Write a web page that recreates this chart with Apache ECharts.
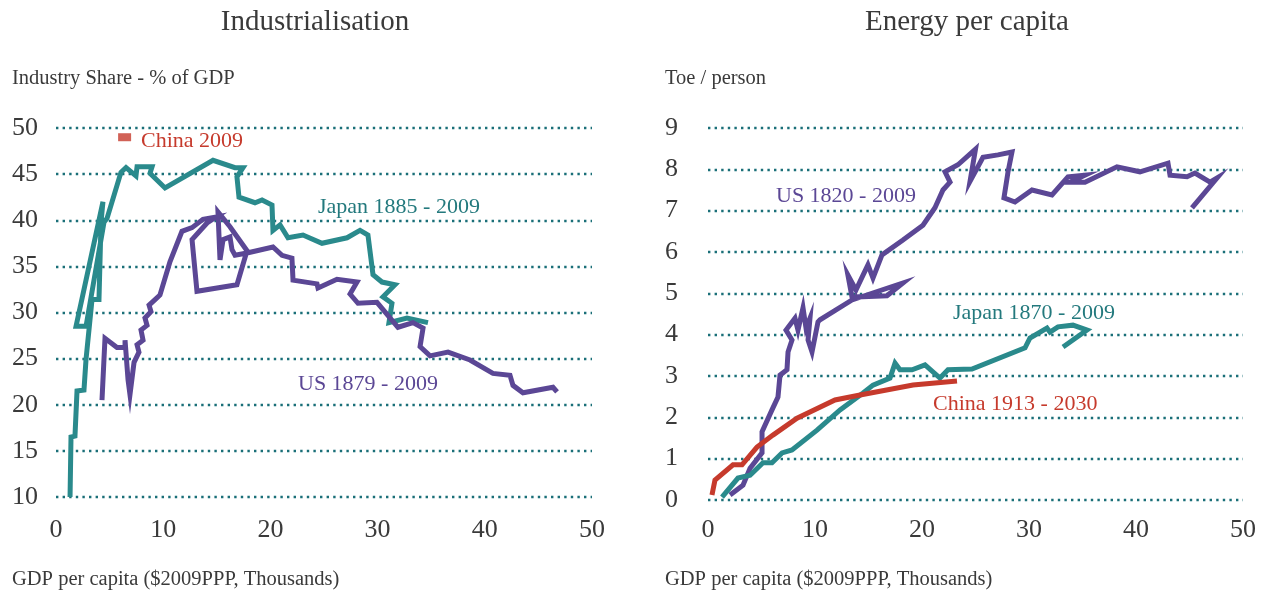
<!DOCTYPE html>
<html><head><meta charset="utf-8">
<script src="https://cdn.jsdelivr.net/npm/echarts@6/dist/echarts.min.js"></script>
<style>html,body{margin:0;padding:0;background:#fff}#c{width:1267px;height:593px}</style>
</head><body><div id="c"></div>
<script>
// ---- Data: Industrialisation (x: GDP per capita, $2009PPP thousands; y: industry share %)
const japanInd = [[1.31,10.0],[1.40,16.5],[1.77,16.6],[1.96,21.5],[2.61,21.6],[2.80,24.9],[3.36,31.4],[4.01,31.4],[4.20,39.8],[4.38,42.0],[1.87,28.5],[2.80,28.5],[4.48,39.8],[4.76,40.2],[6.06,45.2],[6.53,45.7],[7.46,44.8],[7.56,45.8],[8.96,45.8],[8.77,45.1],[10.17,43.5],[14.65,46.5],[16.70,45.7],[17.44,45.7],[16.88,44.7],[17.07,42.5],[18.56,41.9],[19.22,42.2],[20.15,41.65],[20.24,38.9],[20.90,39.5],[21.64,38.1],[23.04,38.4],[24.81,37.5],[27.15,38.1],[28.36,38.9],[29.10,38.4],[29.57,34.1],[30.41,33.3],[31.62,33.0],[30.50,31.7],[31.34,31.0],[31.06,28.9],[32.74,29.4],[34.70,28.9]];
const usInd = [[4.29,20.5],[4.57,27.2],[5.69,26.2],[6.44,26.2],[6.44,27.0],[6.72,22.7],[6.90,21.1],[7.28,24.6],[7.74,25.7],[7.56,26.5],[8.12,27.0],[7.93,28.1],[8.49,28.6],[8.30,29.4],[8.86,30.1],[8.68,30.8],[9.24,31.4],[9.70,31.9],[10.63,35.5],[11.75,38.8],[12.69,39.2],[13.71,40.1],[14.93,40.35],[14.09,39.7],[12.69,37.9],[13.15,32.3],[16.88,33.0],[17.82,36.7],[16.23,39.3],[15.11,40.9],[15.30,35.7],[15.58,37.9],[16.23,38.2],[16.42,36.8],[16.70,36.2],[17.82,36.45],[20.24,37.1],[21.08,36.2],[22.01,35.9],[22.11,33.5],[24.35,33.1],[24.44,32.65],[26.21,33.6],[28.08,33.3],[27.43,32.0],[28.17,31.0],[29.94,31.1],[31.90,28.4],[33.30,28.9],[34.24,28.3],[33.96,26.3],[34.89,25.3],[36.57,25.7],[38.62,24.85],[40.76,23.4],[42.35,23.2],[42.63,22.1],[43.56,21.3],[46.36,21.9],[46.74,21.4]];
const china2009Ind = [[6.4,49.0]];

// ---- Data: Energy per capita (x: GDP per capita; y: toe / person)
const usEnergy = [[2.06,0.12],[3.27,0.36],[3.93,0.77],[5.05,1.14],[5.05,1.65],[5.98,2.18],[6.54,2.49],[6.73,3.02],[7.38,3.15],[7.48,3.58],[7.85,3.87],[7.29,4.11],[8.13,4.40],[8.41,4.11],[8.88,4.65],[9.16,4.16],[9.53,4.40],[9.35,3.87],[9.72,3.58],[10.28,4.31],[10.47,4.36],[13.46,4.84],[18.22,5.25],[16.73,4.94],[13.46,4.91],[13.08,5.44],[13.83,5.08],[14.49,5.44],[14.95,5.69],[15.42,5.37],[16.26,5.93],[18.22,6.29],[20.09,6.65],[21.21,7.07],[21.96,7.50],[22.62,7.69],[22.15,7.94],[23.36,8.11],[25.0,8.49],[24.49,7.71],[25.70,8.29],[27.10,8.35],[28.41,8.42],[28.04,7.94],[27.66,7.31],[28.69,7.21],[30.28,7.50],[32.15,7.38],[33.64,7.82],[35.23,7.86],[33.83,7.69],[35.23,7.69],[38.22,8.06],[40.37,7.94],[42.99,8.15],[43.18,7.86],[44.77,7.82],[45.51,7.91],[46.92,7.69],[47.57,7.79],[45.23,7.07]];
const japanEnergy = [[1.31,0.07],[2.80,0.53],[3.93,0.60],[5.14,0.90],[5.98,0.90],[6.92,1.14],[7.85,1.21],[10.19,1.69],[12.34,2.18],[14.49,2.59],[15.42,2.78],[17.01,2.95],[17.48,3.31],[17.94,3.15],[19.07,3.15],[20.28,3.27],[21.68,2.95],[22.43,3.15],[24.67,3.17],[29.63,3.68],[30.09,3.92],[31.68,4.16],[31.96,4.06],[32.71,4.19],[34.11,4.23],[35.42,4.11],[33.18,3.70]];
const chinaEnergy = [[0.37,0.12],[0.65,0.48],[2.34,0.85],[3.18,0.85],[4.58,1.28],[6.07,1.57],[8.32,1.98],[11.87,2.42],[14.21,2.54],[19.16,2.78],[23.27,2.88]];

const xTicks = {min:0, max:50, interval:10};
const indTicks = {min:10, max:50, interval:5};
const energyTicks = {min:0, max:9, interval:1};

const FONT = '"Liberation Serif", "DejaVu Serif", serif';
const TEXT = '#3a3a3a';
const TEAL = '#2a8a8c', PURPLE = '#5b4795', RED = '#c63a2c';
const GRIDC = '#1a6f78';

function xAxis(gi, margin){
  return {type:'value', gridIndex:gi, min:xTicks.min, max:xTicks.max, interval:xTicks.interval,
    axisLine:{show:false}, axisTick:{show:false}, splitLine:{show:false},
    axisLabel:{fontFamily:FONT, fontSize:26, color:TEXT, margin:margin}};
}
function yAxis(gi, t, margin){
  return {type:'value', gridIndex:gi, min:t.min, max:t.max, interval:t.interval,
    axisLine:{show:false}, axisTick:{show:false},
    splitLine:{show:true, lineStyle:{color:GRIDC, width:2.4, type:[2.4,4.2]}},
    axisLabel:{fontFamily:FONT, fontSize:26, color:TEXT, align:'left', margin:margin}};
}
function line(xi, data, color){
  return {type:'line', xAxisIndex:xi, yAxisIndex:xi, data:data, symbol:'none', smooth:false, clip:false,
    lineStyle:{color:color, width:5, join:'miter', cap:'butt'}, z:3};
}
function txt(x, y, s, size, color, align){
  return {type:'text', left:x, top:y - size*0.62 + 4, style:{text:s, fontFamily:FONT, fontSize:size, fill:color, textAlign:align||'left'}};
}

const chart = echarts.init(document.getElementById('c'), null, {renderer:'canvas'});
chart.setOption({
  animation:false,
  backgroundColor:'#fff',
  title:[
    {text:'Industrialisation', left:310, top:3, textAlign:'center', textStyle:{fontFamily:FONT, fontSize:29, fontWeight:'normal', color:TEXT}},
    {text:'Energy per capita', left:962, top:3, textAlign:'center', textStyle:{fontFamily:FONT, fontSize:29, fontWeight:'normal', color:TEXT}}
  ],
  grid:[
    {left:56, right:675, top:128, bottom:96},
    {left:708, right:24, top:128, bottom:93}
  ],
  xAxis:[xAxis(0,20), xAxis(1,17)],
  yAxis:[yAxis(0, indTicks, 44), yAxis(1, energyTicks, 43)],
  graphic:[
    txt(12, 77, 'Industry Share - % of GDP', 20.5, TEXT),
    txt(665, 77, 'Toe / person', 20.5, TEXT),
    txt(12, 578, 'GDP per capita ($2009PPP, Thousands)', 20.5, TEXT),
    txt(665, 578, 'GDP per capita ($2009PPP, Thousands)', 20.5, TEXT),
    txt(141, 140, 'China 2009', 22, RED),
    txt(318, 206, 'Japan 1885 - 2009', 22, '#23797d'),
    txt(298, 383, 'US 1879 - 2009', 22, PURPLE),
    txt(776, 195, 'US 1820 - 2009', 22, PURPLE),
    txt(953, 312, 'Japan 1870 - 2009', 22, '#23797d'),
    txt(933, 403, 'China 1913 - 2030', 22, RED)
  ],
  series:[
    line(0, japanInd, TEAL),
    line(0, usInd, PURPLE),
    {type:'scatter', xAxisIndex:0, yAxisIndex:0, data:china2009Ind, symbol:'rect', symbolSize:[13,8], itemStyle:{color:RED}, z:3},
    line(1, usEnergy, PURPLE),
    line(1, japanEnergy, TEAL),
    line(1, chinaEnergy, RED)
  ]
});
</script></body></html>
